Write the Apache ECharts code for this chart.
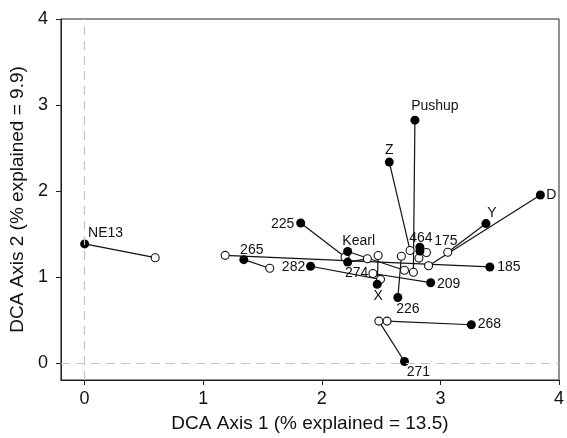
<!DOCTYPE html>
<html>
<head>
<meta charset="utf-8">
<script src="https://cdn.jsdelivr.net/npm/echarts@6/dist/echarts.min.js"></script>
<style>
  html, body { margin: 0; padding: 0; background: #fff; }
  #chart { width: 567px; height: 438px; }
</style>
</head>
<body>
<div id="chart"></div>
<script>
// site names (filled = first position, open = second position)
const siteNames = ['NE13', '265', '185', '225', 'Kearl', '274', '282', '209', 'X', '226',
  'Pushup', 'Z', '464', '175', 'Y', 'D', '268', '271']
const filledX = [0, 1.342, 3.417, 1.822, 2.218, 2.218, 1.905, 2.918, 2.467, 2.641,
  2.785, 2.569, 2.827, 2.827, 3.384, 3.843, 3.261, 2.697]
const filledY = [1.383, 1.20, 1.115, 1.627, 1.295, 1.172, 1.123, 0.932, 0.913, 0.760,
  2.823, 2.335, 1.345, 1.30, 1.620, 1.952, 0.443, 0.015]
const openX = [0.595, 1.561, 1.185, 2.196, 2.697, 2.384, 2.495, 2.431, 2.475, 2.671,
  2.772, 2.744, 2.882, 2.819, 3.062, 2.900, 2.550, 2.481]
const openY = [1.223, 1.100, 1.250, 1.230, 1.077, 1.210, 0.971, 1.039, 1.249, 1.240,
  1.054, 1.307, 1.284, 1.218, 1.287, 1.130, 0.485, 0.485]
const axisTicks = [0, 1, 2, 3, 4]

// label offsets from the dot centre (style only)
const labelOffset = {
  NE13: [21, -11], '265': [8, -10], '225': [-18, 1], Kearl: [11, -10], '274': [9, 11],
  '282': [-17, 1], X: [1, 12], '226': [10, 12], '464': [1, -9], '175': [26, -10],
  '209': [18, 1], '185': [19, 0], Pushup: [20, -14], Z: [0, -12], Y: [6, -10],
  D: [11, 0], '268': [18, -1], '271': [14, 11]
}

const myChart = echarts.init(document.getElementById('chart'))

const linkData = siteNames.map((n, i) => ({
  coords: [[filledX[i], filledY[i]], [openX[i], openY[i]]]
}))
const openData = siteNames.map((n, i) => [openX[i], openY[i]])
const filledData = siteNames.map((n, i) => ({
  name: n,
  value: [filledX[i], filledY[i]],
  label: { offset: labelOffset[n] }
}))

const axisCommon = {
  type: 'value',
  min: -0.2,
  max: 4,
  splitLine: { show: false },
  axisLine: { onZero: false, lineStyle: { color: '#222', width: 1 } },
  axisTick: { length: 5, customValues: axisTicks, lineStyle: { color: '#222' } },
  axisLabel: {
    customValues: axisTicks,
    color: '#111',
    fontSize: 18,
    fontFamily: 'Liberation Sans'
  },
  nameLocation: 'middle',
  nameTextStyle: { color: '#111', fontSize: 19, fontFamily: 'Liberation Sans' }
}

const option = {
  animation: false,
  backgroundColor: '#fff',
  grid: {
    left: 57,
    right: 4,
    top: 19,
    bottom: 53,
    show: true,
    borderColor: '#222',
    borderWidth: 1
  },
  xAxis: Object.assign({}, axisCommon, {
    name: 'DCA Axis 1 (% explained = 13.5)',
    nameGap: 34,
    axisLabel: Object.assign({}, axisCommon.axisLabel, { margin: 10 })
  }),
  yAxis: Object.assign({}, axisCommon, {
    name: 'DCA Axis 2 (% explained = 9.9)',
    nameGap: 26,
    axisLabel: Object.assign({}, axisCommon.axisLabel, { margin: 13 })
  }),
  series: [
    {
      type: 'lines',
      coordinateSystem: 'cartesian2d',
      z: 2,
      silent: true,
      lineStyle: { color: '#111', width: 1.2, opacity: 1 },
      data: linkData,
      markLine: {
        silent: true,
        symbol: 'none',
        label: { show: false },
        lineStyle: { color: '#c4c4c4', type: [9, 6], width: 1.2 },
        data: [{ xAxis: 0 }, { yAxis: 0 }]
      }
    },
    {
      type: 'scatter',
      z: 3,
      symbol: 'circle',
      symbolSize: 8,
      itemStyle: { color: '#fff', borderColor: '#111', borderWidth: 1.1, opacity: 1 },
      data: openData
    },
    {
      type: 'scatter',
      z: 4,
      symbol: 'circle',
      symbolSize: 9,
      itemStyle: { color: '#000', opacity: 1 },
      label: {
        show: true,
        position: 'inside',
        formatter: '{b}',
        color: '#111',
        fontSize: 14,
        fontFamily: 'Liberation Sans'
      },
      data: filledData
    }
  ]
}
myChart.setOption(option)
</script>
</body>
</html>
